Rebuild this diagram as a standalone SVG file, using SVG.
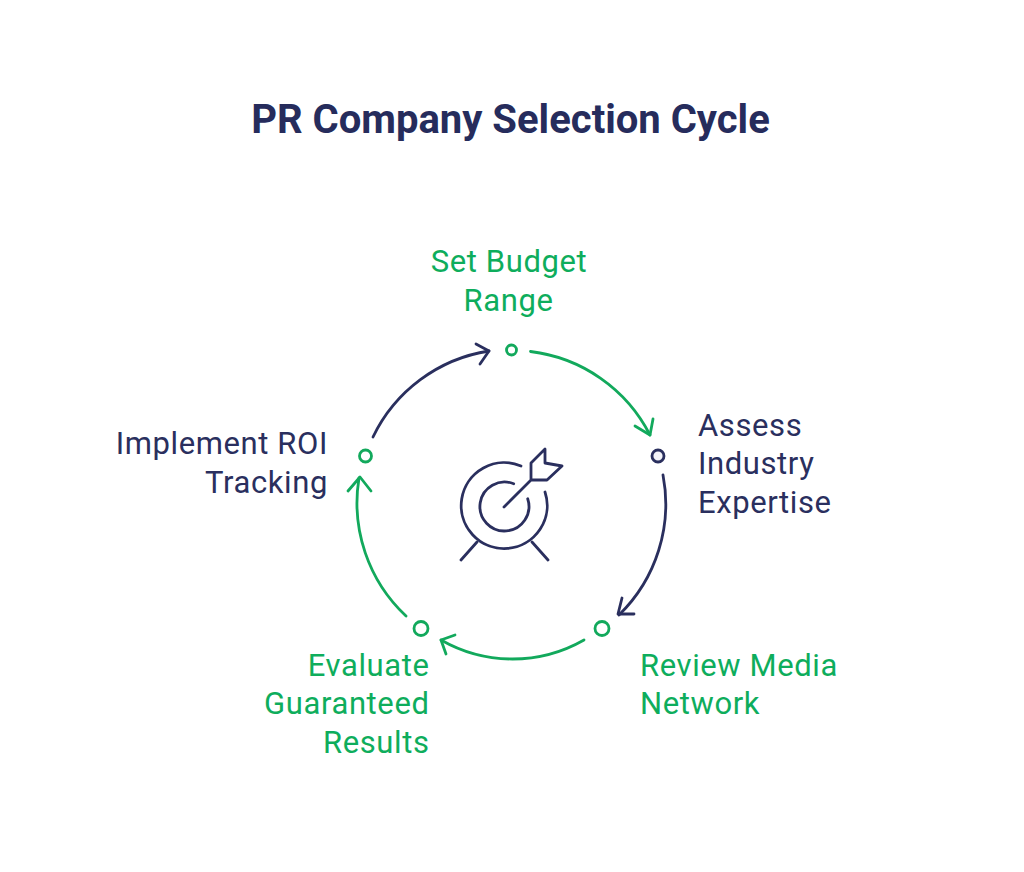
<svg xmlns="http://www.w3.org/2000/svg" width="1024" height="872" viewBox="0 0 1024 872">
<defs><style>
.t{font-family:Roboto,"Liberation Sans",sans-serif;font-size:31px;letter-spacing:.6px}
.title{font-family:Roboto,"Liberation Sans",sans-serif;font-size:40px;font-weight:700;fill:#262c5c;text-anchor:middle}
.g{fill:#0ead5c}.n{fill:#2a2f5e}
.l{fill:none;stroke-width:2.8;stroke-linecap:round;stroke-linejoin:round}
.sg{stroke:#12a95c}.sn{stroke:#2a2f5e}
.d{fill:#fff;stroke-width:2.8}
</style></defs>
<rect width="1024" height="872" fill="#fff"/>
<text class="title" x="510.500" y="133">PR Company Selection Cycle</text>
<g id="connectors">
<path class="l sg" d="M530.500 351.500A155 155 0 0 1 650 435"/><path class="l sg" d="M635 426L650 435L653 419"/>
<path class="l sn" d="M663 475A155 155 0 0 1 619 615"/><path class="l sn" d="M622 598L618 614L634 614"/>
<path class="l sg" d="M584 640A144 144 0 0 1 441 640"/><path class="l sg" d="M455 635L441 640L446 654"/>
<path class="l sg" d="M406 616A155 155 0 0 1 359 478"/><path class="l sg" d="M348 491L360 477L371 491"/>
<path class="l sn" d="M373 437A155 155 0 0 1 489 351"/><path class="l sn" d="M476 344L489 351L480 364"/>
</g>
<g id="icon" class="l sn">
<path d="M521 466A43 43 0 1 0 545 492"/>
<path d="M513.700 483.800A24.500 24.500 0 1 0 527.700 498.800"/>
<path d="M504 507L531 480V463L545 449V463L562 466L547 480H531"/>
<path d="M477 542L461 560M532 542L548 560"/>
</g>
<g id="node-budget"><circle class="d sg" cx="511.500" cy="350" r="5"/><text class="t g" text-anchor="middle"><tspan x="509" y="272">Set Budget</tspan><tspan x="508.500" y="311">Range</tspan></text></g>
<g id="node-expertise"><circle class="d sn" cx="658" cy="456" r="6" style="fill:#f3f3f9"/><text class="t n"><tspan x="698" y="436">Assess</tspan><tspan x="698" y="474">Industry</tspan><tspan x="698" y="513">Expertise</tspan></text></g>
<g id="node-media"><circle class="d sg" cx="602" cy="628.500" r="7"/><text class="t g"><tspan x="640" y="676">Review Media</tspan><tspan x="640" y="714">Network</tspan></text></g>
<g id="node-results"><circle class="d sg" cx="421" cy="628.500" r="7"/><text class="t g" text-anchor="end"><tspan x="429.500" y="676">Evaluate</tspan><tspan x="429.500" y="714">Guaranteed</tspan><tspan x="429.500" y="753">Results</tspan></text></g>
<g id="node-roi"><circle class="d sg" cx="365.500" cy="456" r="6"/><text class="t n" text-anchor="end"><tspan x="328" y="454">Implement ROI</tspan><tspan x="328" y="493">Tracking</tspan></text></g>
</svg>
